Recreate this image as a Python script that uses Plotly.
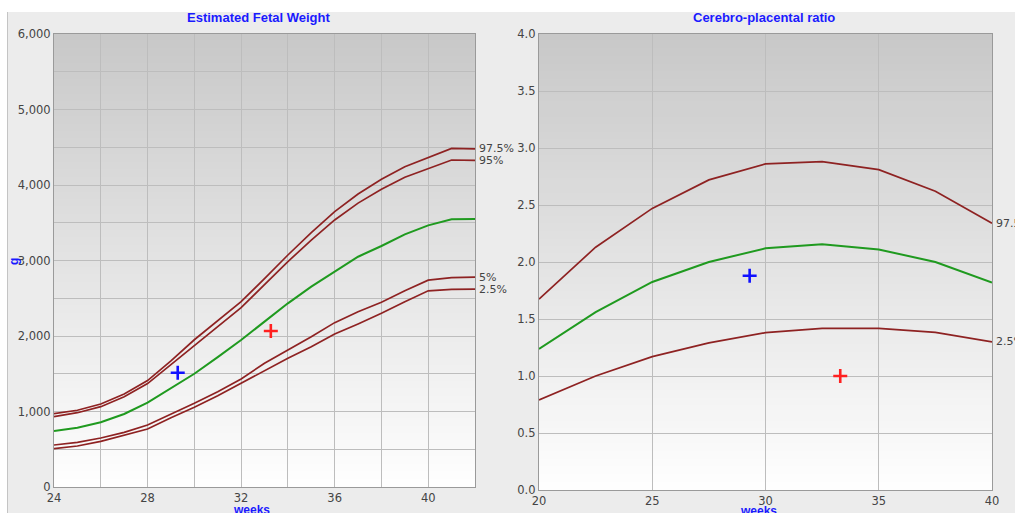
import plotly.graph_objects as go

# ---------------- data ----------------
efw_weeks = list(range(24, 43))
efw_p975 = [971, 1016, 1099, 1232, 1410, 1670, 1950, 2200, 2455, 2760, 3073, 3370, 3647, 3880, 4075, 4243, 4360, 4485, 4478]
efw_p95 = [931, 984, 1064, 1196, 1370, 1620, 1880, 2130, 2375, 2680, 2985, 3270, 3537, 3760, 3943, 4102, 4215, 4331, 4325]
efw_p50 = [742, 786, 857, 967, 1117, 1307, 1500, 1720, 1947, 2190, 2433, 2653, 2852, 3050, 3192, 3347, 3465, 3545, 3550]
efw_p5 = [556, 592, 649, 724, 821, 963, 1108, 1262, 1430, 1640, 1815, 1990, 2177, 2322, 2446, 2600, 2740, 2772, 2781]
efw_p25 = [508, 543, 605, 684, 768, 918, 1055, 1209, 1375, 1545, 1704, 1858, 2026, 2159, 2300, 2455, 2598, 2618, 2622]
efw_blue = (29.29, 1514)
efw_red = (33.27, 2066)

cpr_weeks = [20, 22.5, 25, 27.5, 30, 32.5, 35, 37.5, 40]
cpr_p975 = [1.675, 2.13, 2.47, 2.72, 2.86, 2.88, 2.81, 2.62, 2.34]
cpr_p50 = [1.237, 1.56, 1.825, 2.0, 2.12, 2.155, 2.11, 2.0, 1.82]
cpr_p25 = [0.79, 1.0, 1.17, 1.29, 1.38, 1.418, 1.418, 1.383, 1.30]
cpr_blue = (29.3, 1.88)
cpr_red = (33.3, 1.0)

efw_pct_labels = ["97.5%", "95%", "5%", "2.5%"]
cpr_pct_labels = ["97.5%", "2.5%"]

# ---------------- styles ----------------
W, H = 1015, 513
RED = "#8e2222"
GREEN = "#1f9a1f"
BLUE_T = "#1a1aff"
TICK = "#444444"
GRID = "#bdbdbd"

def px_x(p):
    return p / W

def px_y(p):
    return 1 - p / H

fig = go.Figure()

def line(x, y, color, axis, width=1.7):
    fig.add_trace(go.Scatter(x=x, y=y, mode="lines", line=dict(color=color, width=width),
                             xaxis=axis[0], yaxis=axis[1], showlegend=False, hoverinfo="skip"))

def cross(pt, color, axis):
    fig.add_trace(go.Scatter(x=[pt[0]], y=[pt[1]], mode="markers",
                             marker=dict(symbol="cross-thin", size=10, line=dict(color=color, width=2.6)),
                             xaxis=axis[0], yaxis=axis[1], showlegend=False, hoverinfo="skip"))

L = ("x", "y")
R = ("x2", "y2")
for s in (efw_p975, efw_p95, efw_p5, efw_p25):
    line(efw_weeks, s, RED, L)
line(efw_weeks, efw_p50, GREEN, L, 2)
cross(efw_blue, "#1010ff", L)
cross(efw_red, "#ff2020", L)

for s in (cpr_p975, cpr_p25):
    line(cpr_weeks, s, RED, R)
line(cpr_weeks, cpr_p50, GREEN, R, 2)
cross(cpr_blue, "#1010ff", R)
cross(cpr_red, "#ff2020", R)

# ---------------- background ----------------
shapes = []
shapes.append(dict(type="rect", xref="paper", yref="paper", x0=px_x(7), x1=1.0, y0=0, y1=px_y(12),
                   fillcolor="#ececec", line=dict(width=0), layer="below"))
shapes.append(dict(type="line", xref="paper", yref="paper", x0=px_x(7.5), x1=px_x(7.5), y0=0, y1=px_y(12),
                   line=dict(color="#c4c4c4", width=1), layer="below"))
N = 60
top = 200
bot = 254
for ax in ("x", "x2"):
    ya = "y" if ax == "x" else "y2"
    for i in range(N):
        f = (i + 0.5) / N
        c = int(round(top + (bot - top) * f))
        shapes.append(dict(type="rect", xref=f"{ax} domain", yref=f"{ya} domain",
                           x0=0, x1=1, y0=1 - (i + 1) / N, y1=1 - i / N + 0.002,
                           fillcolor=f"rgb({c},{c},{c})", line=dict(width=0), layer="below"))

# ---------------- annotations ----------------
ann = []
title_font = dict(family="Liberation Sans", size=13, color=BLUE_T, weight="bold")
ann.append(dict(text="Estimated Fetal Weight", x=px_x(258), y=px_y(17), xref="paper", yref="paper",
                showarrow=False, font=title_font, xanchor="center", yanchor="middle"))
ann.append(dict(text="Cerebro-placental ratio", x=px_x(764), y=px_y(17), xref="paper", yref="paper",
                showarrow=False, font=title_font, xanchor="center", yanchor="middle"))
wk_font = dict(family="Liberation Sans", size=12, color=BLUE_T, weight="bold")
ann.append(dict(text="weeks", x=px_x(251), y=px_y(510), xref="paper", yref="paper",
                showarrow=False, font=wk_font, xanchor="center", yanchor="middle"))
ann.append(dict(text="weeks", x=px_x(758), y=px_y(511), xref="paper", yref="paper",
                showarrow=False, font=wk_font, xanchor="center", yanchor="middle"))
ann.append(dict(text="g", x=px_x(14), y=px_y(262), xref="paper", yref="paper", textangle=-90,
                showarrow=False, font=dict(family="Liberation Sans", size=12, color=BLUE_T, weight="bold"),
                xanchor="center", yanchor="middle"))

lab_font = dict(family="DejaVu Sans", size=11, color=TICK)
for txt, s in zip(efw_pct_labels, (efw_p975, efw_p95, efw_p5, efw_p25)):
    ann.append(dict(text=txt, x=efw_weeks[-1], y=s[-1], xref="x", yref="y", showarrow=False,
                    xanchor="left", yanchor="middle", xshift=2, font=lab_font))
for txt, s in zip(cpr_pct_labels, (cpr_p975, cpr_p25)):
    ann.append(dict(text=txt, x=cpr_weeks[-1], y=s[-1], xref="x2", yref="y2", showarrow=False,
                    xanchor="left", yanchor="middle", xshift=2, font=lab_font))

tick_font = dict(family="DejaVu Sans", size=11.5, color=TICK)
axis_common = dict(showline=True, linecolor="#9a9a9a", linewidth=1.2, mirror=True, ticks="",
                   showgrid=True, gridcolor=GRID, gridwidth=1, zeroline=False, tickfont=tick_font,
                   fixedrange=True, automargin=False)

fig.update_layout(
    width=W, height=H,
    margin=dict(l=0, r=0, t=0, b=0, pad=0, autoexpand=False),
    paper_bgcolor="white",
    plot_bgcolor="rgba(0,0,0,0)",
    showlegend=False,
    shapes=shapes,
    annotations=ann,
    xaxis=dict(domain=[px_x(54), px_x(475)], range=[24, 42], tickvals=[24, 28, 32, 36, 40],
               minor=dict(dtick=2, tick0=24, showgrid=True, gridcolor=GRID, gridwidth=1),
               anchor="y", **axis_common),
    yaxis=dict(domain=[px_y(487), px_y(34)], range=[0, 6000], dtick=1000, tickformat=",d",
               minor=dict(dtick=500, showgrid=True, gridcolor=GRID, gridwidth=1),
               anchor="x", **axis_common),
    xaxis2=dict(domain=[px_x(539), px_x(992)], range=[20, 40], dtick=5, anchor="y2", **axis_common),
    yaxis2=dict(domain=[px_y(490), px_y(34)], range=[0, 4], dtick=0.5, tickformat=".1f",
                anchor="x2", **axis_common),
)

fig.write_html(
    "out.html",
    config={"displayModeBar": False},
    post_script="document.body.style.margin='0';document.body.style.overflow='hidden';",
)
